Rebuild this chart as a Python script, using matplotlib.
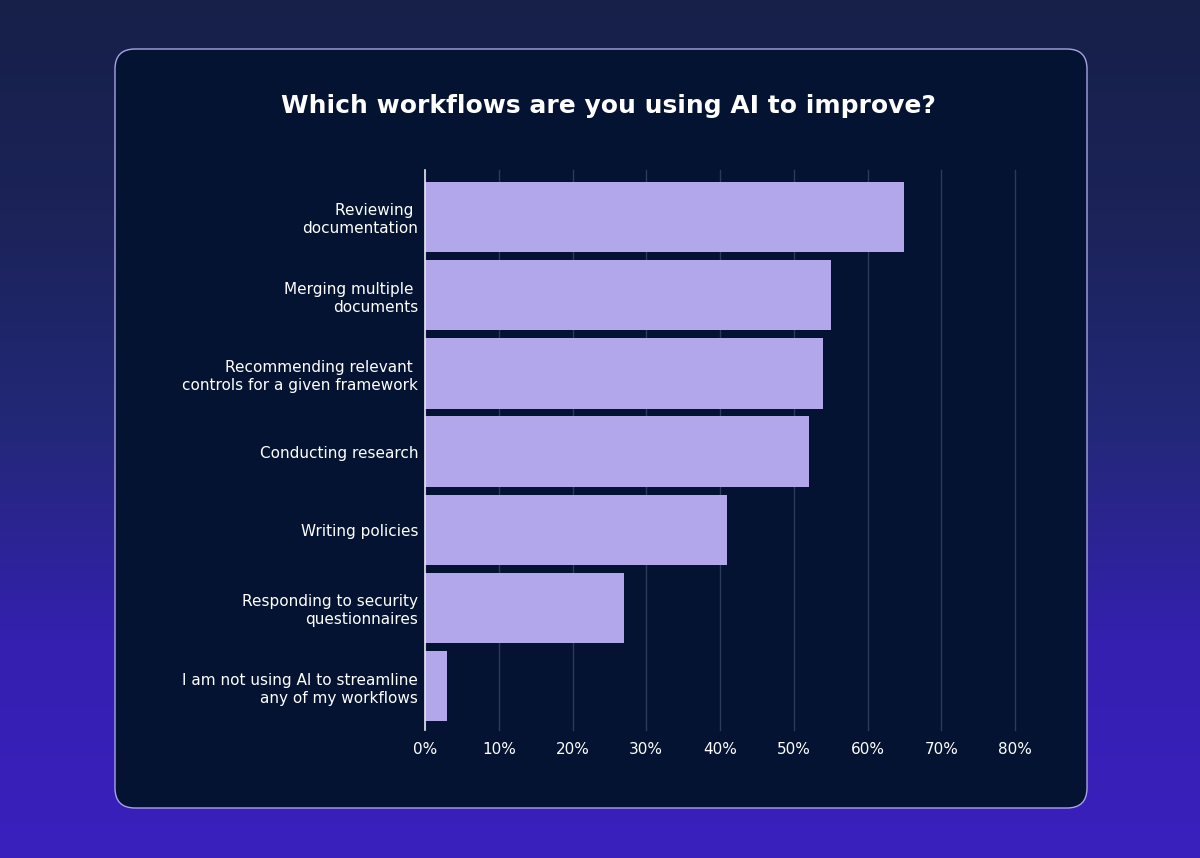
import numpy as np
import matplotlib
matplotlib.use("Agg")
import matplotlib.pyplot as plt
from matplotlib.patches import FancyBboxPatch
from matplotlib.colors import LinearSegmentedColormap

categories = [
    "Reviewing \ndocumentation",
    "Merging multiple \ndocuments",
    "Recommending relevant \ncontrols for a given framework",
    "Conducting research",
    "Writing policies",
    "Responding to security\nquestionnaires",
    "I am not using AI to streamline\nany of my workflows",
]
values = [65, 55, 54, 52, 41, 27, 3]
xticks = [0, 10, 20, 30, 40, 50, 60, 70, 80]
xticklabels = [f"{t}%" for t in xticks]

W, H = 1200, 858
fig = plt.figure(figsize=(W / 100, H / 100), dpi=100)

# background gradient
bg = fig.add_axes([0, 0, 1, 1])
bg.set_axis_off()
cmap = LinearSegmentedColormap.from_list("bg", ["#162048", "#1b2358", "#232878", "#3420b0", "#3a1fbd"])
grad = np.linspace(0, 1, 256).reshape(-1, 1)
bg.imshow(grad, aspect="auto", cmap=cmap, extent=[0, W, H, 0])
bg.set_xlim(0, W)
bg.set_ylim(H, 0)

# card
card = FancyBboxPatch((115, 49), 972, 759, boxstyle="round,pad=0,rounding_size=20",
                      facecolor="#041331", edgecolor="#a9a3e6", linewidth=1.0)
bg.add_patch(card)

fig.text(608 / W, 1 - 106 / H, "Which workflows are you using AI to improve?",
         color="white", fontsize=18, fontweight="bold", ha="center", va="center",
         family="DejaVu Sans")

ax = fig.add_axes([425 / W, (H - 730) / H, 590 / W, 560 / H])
ax.set_facecolor("none")
y = np.arange(len(categories))
ax.barh(y, values, height=0.9, color="#b3a7ec", zorder=3)
ax.set_ylim(len(categories) - 0.5 + 0.06, -0.5 - 0.1)
ax.set_xlim(0, 80)
ax.set_xticks(xticks)
ax.set_xticklabels(xticklabels)
ax.set_yticks(y)
ax.set_yticklabels(categories, linespacing=1.25)
ax.grid(axis="x", color="#2c3a5c", linewidth=1, zorder=0)
for gl in ax.get_xgridlines():
    gl.set_clip_on(False)
ax.tick_params(axis="both", length=0, colors="white", labelsize=11)
ax.tick_params(axis="y", pad=5)
ax.tick_params(axis="x", pad=9)
for s in ["top", "right", "bottom"]:
    ax.spines[s].set_visible(False)
ax.spines["left"].set_color("#e8e8f0")
ax.spines["left"].set_linewidth(1.2)
ax.spines["left"].set_zorder(4)

fig.savefig("out.png", dpi=100)
